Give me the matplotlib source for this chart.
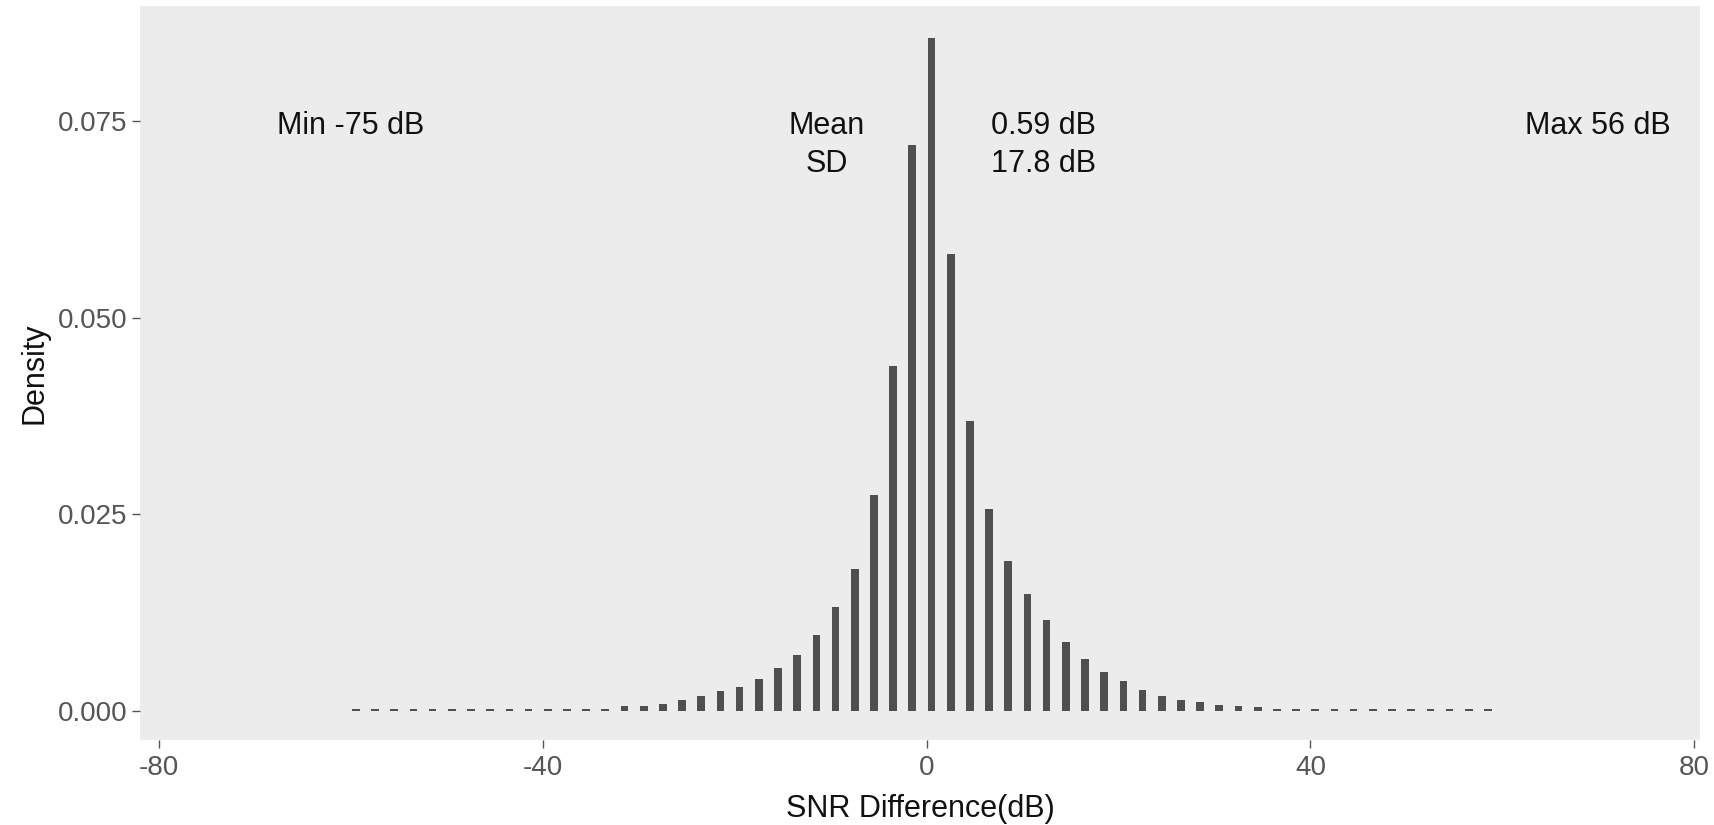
import numpy as np
import matplotlib
matplotlib.use("Agg")
import matplotlib.pyplot as plt

plt.rcParams["font.family"] = ["Liberation Sans", "DejaVu Sans"]

# ── histogram bins (2 dB wide) ─────────────────────────────────────────────────
bin_centers = np.arange(-59.5, 60, 2)
density = [
    0.0002, 0.0002, 0.0002, 0.0002, 0.0002, 0.0002, 0.0002, 0.0002, 0.0002, 0.0002,  # -59.5 .. -41.5
    0.0002, 0.0002, 0.0003, 0.0003, 0.0006, 0.0006, 0.0009, 0.0014, 0.0019, 0.0025,  # -39.5 .. -21.5
    0.0030, 0.0041, 0.0054, 0.0071, 0.0096, 0.0132, 0.0181, 0.0274, 0.0438, 0.0719,  # -19.5 .. -1.5
    0.0855, 0.0581, 0.0369, 0.0257, 0.0190, 0.0149, 0.0115, 0.0088, 0.0066, 0.0049,  #   0.5 .. 18.5
    0.0038, 0.0027, 0.0019, 0.0014, 0.0011, 0.0008, 0.0006, 0.0005, 0.0003, 0.0002,  #  20.5 .. 38.5
    0.0002, 0.0002, 0.0002, 0.0002, 0.0002, 0.0002, 0.0002, 0.0002, 0.0002, 0.0002,  #  40.5 .. 58.5
]

x_ticks = [-80, -40, 0, 40, 80]
y_ticks = [0.000, 0.025, 0.050, 0.075]

snr_min, snr_max = -75, 56
snr_mean, snr_sd = 0.59, 17.8

# ── figure ─────────────────────────────────────────────────────────────────────
fig = plt.figure(figsize=(17.14, 8.25), dpi=100)
ax = fig.add_axes([0.0817, 0.103, 0.9101, 0.8897])
ax.set_facecolor("#ECECEC")

ax.bar(bin_centers, density, width=0.8, color="#4F4F4F", linewidth=0)

ax.set_xlim(-82, 80.6)
ax.set_ylim(-0.0037, 0.0896)
ax.set_xticks(x_ticks)
ax.set_xticklabels([str(t) for t in x_ticks])
ax.set_yticks(y_ticks)
ax.set_yticklabels([f"{t:.3f}" for t in y_ticks])
ax.tick_params(axis="both", colors="#555555", labelcolor="#555555",
               labelsize=20, length=6, width=1)
ax.tick_params(axis="y", pad=3)
ax.tick_params(axis="x", pad=5)
for s in ax.spines.values():
    s.set_visible(False)
ax.grid(False)

ax.set_xlabel("SNR Difference(dB)", fontsize=22, color="#111111", labelpad=9)
ax.set_ylabel("Density", fontsize=22, color="#111111", labelpad=6)

# summary annotations
txt = dict(fontsize=22, color="#111111", ha="center", va="center", linespacing=1.33)
ax.text(-60, 0.0744, f"Min {snr_min} dB", **txt)
ax.text(70, 0.0744, f"Max {snr_max} dB", **txt)
ax.text(-10.4, 0.0719, "Mean\nSD", **txt)
ax.text(12.2, 0.0719, f"{snr_mean} dB\n{snr_sd} dB", **txt)

fig.savefig("out.png", dpi=100)
plt.close(fig)
